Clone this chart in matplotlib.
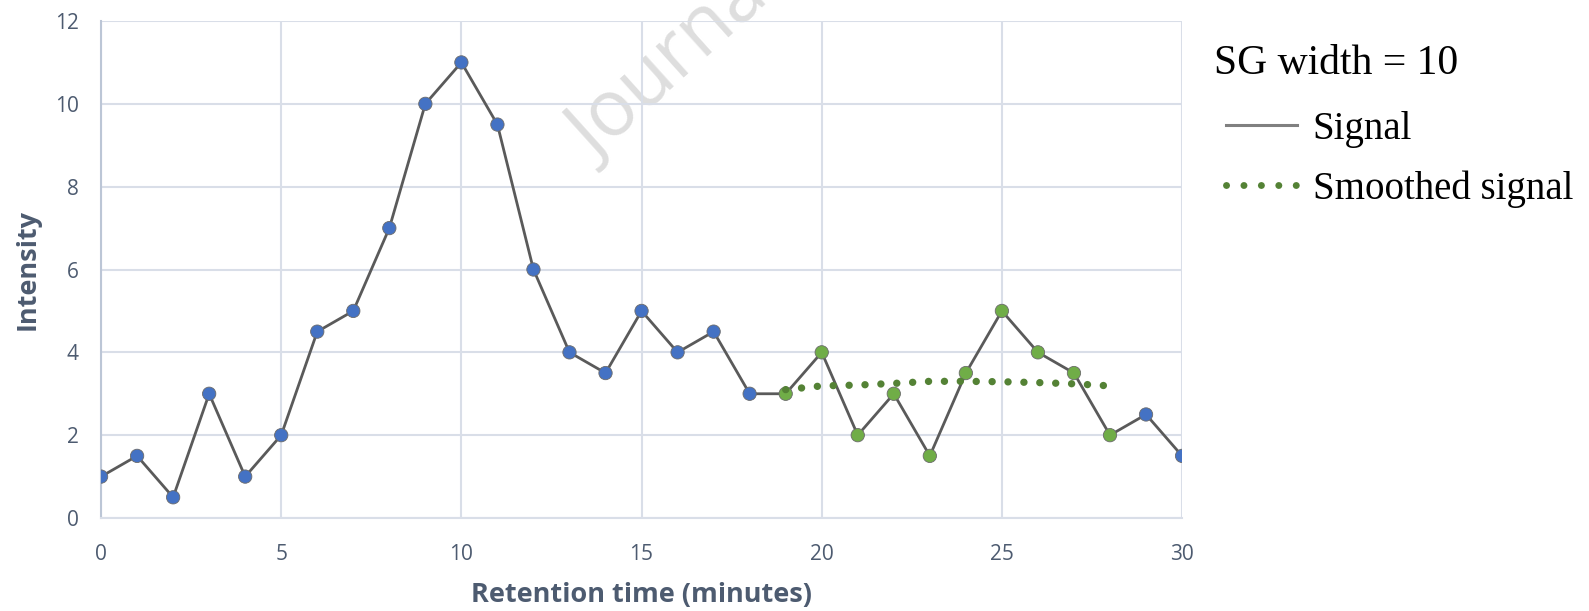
import matplotlib
matplotlib.use("Agg")
import matplotlib.pyplot as plt
from matplotlib.lines import Line2D

# ---- data ----
time = list(range(31))
signal = [1, 1.5, 0.5, 3, 1, 2, 4.5, 5, 7, 10, 11, 9.5, 6, 4, 3.5, 5, 4, 4.5, 3,
          3, 4, 2, 3, 1.5, 3.5, 5, 4, 3.5, 2, 2.5, 1.5]
window_start, window_end = 19, 28
smooth_time = list(range(19, 29))
smoothed = [3.10, 3.19, 3.21, 3.25, 3.30, 3.30, 3.29, 3.27, 3.24, 3.19]
xticks = [0, 5, 10, 15, 20, 25, 30]
yticks = [0, 2, 4, 6, 8, 10, 12]
legend_title = "SG width = 10"
legend_labels = ["Signal", "Smoothed signal"]

# ---- style ----
LINE_GRAY = "#5A5A5A"
BLUE = "#4472C4"
GREEN = "#70AD47"
DARK_GREEN = "#548235"
TEXT = "#4D5B70"
GRID = "#D9DEE8"

plt.rcParams['font.family'] = ['Open Sans', 'DejaVu Sans']

fig = plt.figure(figsize=(15.89, 6.11), dpi=100)
ax = fig.add_axes([0.0636, 0.1522, 0.6803, 0.8134])

# watermark (behind the axes grid)
fig.text(0.375, 0.733, "Journal Pre-proof", rotation=42, rotation_mode='anchor',
         ha='left', va='baseline', fontsize=56, color='#DEDEDE', zorder=-1,
         family=['Open Sans', 'DejaVu Sans'])
ax.patch.set_alpha(0)

ax.plot(time, signal, color=LINE_GRAY, lw=2.0, zorder=3)
ax.plot(smooth_time, smoothed, color=DARK_GREEN, lw=5.3,
        linestyle=(0, (0.01, 2.15)), dash_capstyle='round', zorder=5)

mcol = [GREEN if window_start <= t <= window_end else BLUE for t in time]
ax.scatter(time, signal, s=9.6**2, c=mcol, edgecolors='#6B6B6B', linewidths=0.6, zorder=4)

ax.set_xlim(0, 30)
ax.set_ylim(0, 12)
ax.set_xticks(xticks)
ax.set_yticks(yticks)
ax.grid(True, color=GRID, lw=1.5, zorder=0)
ax.set_axisbelow(True)
for s in ['top', 'right']:
    ax.spines[s].set_visible(False)
ax.spines['left'].set_color('#BCC6D6')
ax.spines['left'].set_linewidth(1.5)
ax.spines['bottom'].set_color(GRID)
ax.spines['bottom'].set_linewidth(1.5)
ax.tick_params(axis='x', length=0, pad=19, labelsize=15, labelcolor=TEXT)
ax.tick_params(axis='y', length=0, pad=16, labelsize=15, labelcolor=TEXT)
ax.set_xlabel("Retention time (minutes)", fontsize=19.5, fontweight='bold', color=TEXT, labelpad=12)
ax.set_ylabel("Intensity", fontsize=19.5, fontweight='bold', color=TEXT, labelpad=10)

# legend
fig.text(0.764, 0.895, legend_title, ha='left', va='center',
         family='Liberation Serif', fontsize=30, color='black')
handles = [Line2D([], [], color='#808080', lw=2.2),
           Line2D([], [], color=DARK_GREEN, lw=5.0, linestyle=(0, (0.01, 2.5)),
                  dash_capstyle='round')]
leg = fig.legend(handles, legend_labels,
                 loc='upper left', bbox_to_anchor=(0.7495, 0.8756),
                 frameon=False, handlelength=1.83, handletextpad=0.4,
                 labelspacing=0.57,
                 prop={'family': 'Liberation Serif', 'size': 28})

fig.savefig("out.png", dpi=100)
